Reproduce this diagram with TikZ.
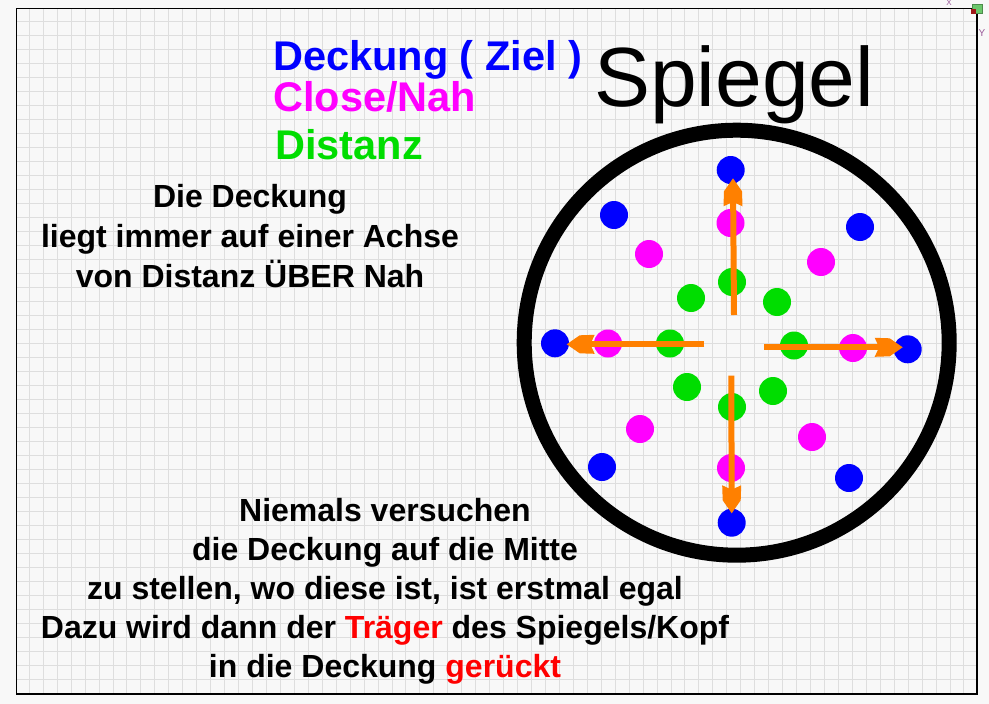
\documentclass[tikz,border=0pt]{standalone}
\usepackage{fontspec}
\setmainfont{Liberation Sans}
\usetikzlibrary{arrows.meta}
\definecolor{bgc}{HTML}{F8F8F8}
\definecolor{gridc}{HTML}{DEDEDE}
\definecolor{gblue}{HTML}{0000FF}
\definecolor{gmag}{HTML}{FF00FF}
\definecolor{ggreen}{HTML}{00DD00}
\definecolor{gorange}{HTML}{FF8000}
\definecolor{gred}{HTML}{FF0000}
\definecolor{axisc}{HTML}{9A5A9A}
\definecolor{cornergreen}{HTML}{6CC86C}
\definecolor{cornerred}{HTML}{A01818}
\begin{document}
\begin{tikzpicture}[x=1pt,y=-1pt,
  dot/.style={circle,inner sep=0pt,minimum size=28pt},
  bdot/.style={dot,fill=gblue},
  mdot/.style={dot,fill=gmag},
  gdot/.style={dot,fill=ggreen},
  shaft/.style={draw=gorange,line width=6pt,shorten >=20pt},
  ahead/.pic={\fill[gorange] (0,0) -- (-13,-9) -- (-28,-9.5) -- (-25,-3) -- (-25,3) -- (-28,9.5) -- (-13,9) -- cycle;},
  title/.style={font=\fontsize{41.5}{45}\selectfont\bfseries,anchor=base west,inner sep=0pt},
  body/.style={font=\fontsize{32}{39}\selectfont\bfseries,anchor=base,inner sep=0pt},
  axislabel/.style={font=\fontsize{8}{9}\selectfont,text=axisc,inner sep=0pt}]

% background and grid
\fill[bgc] (0,0) rectangle (989,704);
\useasboundingbox (0,0) rectangle (989,704);
\begin{scope}
  \clip (16.5,8.5) rectangle (977,694);
  \foreach \i in {0,...,67} \draw[gridc,line width=1pt] ({29.3+13.95*\i},8.5) -- ++(0,686);
  \foreach \j in {0,...,47} \draw[gridc,line width=1pt] (16.5,{21+14.02*\j}) -- ++(961,0);
\end{scope}
\draw[black,line width=1.5pt] (16.5,8.5) rectangle (977,694);

% corner marks
\node[axislabel] (xlab) at (949,3) {X};
\node[axislabel,font=\fontsize{10}{11}\selectfont] (ylab) at (982,33) {Y};
\fill[cornergreen,draw=cornergreen!70!black,line width=0.5pt] (972,4) rectangle (982,13);
\fill[cornerred] (971,8.5) rectangle (976,14);

% mirror circle
\coordinate (ctr) at (736.7,342.7);
\draw[black,line width=15pt] (ctr) circle[radius=212.5];

% blue dots (Deckung)
\node[bdot] (b1) at (730.7,170) {};
\node[bdot] (b2) at (614,215) {};
\node[bdot] (b3) at (860,227) {};
\node[bdot] (b4) at (555,343.3) {};
\node[bdot] (b5) at (907.7,349.3) {};
\node[bdot] (b6) at (602,467) {};
\node[bdot] (b7) at (849,478) {};
\node[bdot] (b8) at (731.7,522.7) {};
% magenta dots (Nah)
\node[mdot] (m1) at (730.5,223) {};
\node[mdot] (m2) at (649,254) {};
\node[mdot] (m3) at (821,262) {};
\node[mdot] (m4) at (608,343.5) {};
\node[mdot] (m5) at (853,348) {};
\node[mdot] (m6) at (640,429) {};
\node[mdot] (m7) at (812,437) {};
\node[mdot] (m8) at (731,468) {};
% green dots (Distanz)
\node[gdot] (g1) at (732,282) {};
\node[gdot] (g2) at (691,298) {};
\node[gdot] (g3) at (777,302) {};
\node[gdot] (g4) at (670,343.5) {};
\node[gdot] (g5) at (794,345.5) {};
\node[gdot] (g6) at (687,387) {};
\node[gdot] (g7) at (773,391) {};
\node[gdot] (g8) at (732,407) {};

% arrows
\coordinate (uS) at (734,315);   \coordinate (uE) at (733,178.3);
\coordinate (lS) at (704.3,344.3); \coordinate (lE) at (566.7,344.3);
\coordinate (rS) at (764,347.3); \coordinate (rE) at (902.7,347.3);
\coordinate (dS) at (731.3,375.7); \coordinate (dE) at (731.7,513.3);
\draw[shaft] (uS) -- (uE);
\draw[shaft] (lS) -- (lE);
\draw[shaft] (rS) -- (rE);
\draw[shaft] (dS) -- (dE);
\pic[rotate=90] at (uE) {ahead};
\pic[rotate=180] at (lE) {ahead};
\pic at (rE) {ahead};
\pic[rotate=-90] at (dE) {ahead};

% legend
\node[title,text=gblue] (t1) at (273,70) {Deckung ( Ziel )};
\node[title,text=gmag] (t2) at (273,111) {Close/Nah};
\node[title,text=ggreen] (t3) at (275,159) {Distanz};
\node[font=\fontsize{84}{92}\selectfont,anchor=base west,inner sep=0pt] (sp) at (594,106) {Spiegel};

% left text
\node[body] (a1) at (250,207) {Die Deckung};
\node[body] (a2) at (250,247) {liegt immer auf einer Achse};
\node[body] (a3) at (250,287) {von Distanz ÜBER Nah};

% bottom text
\node[body] (n1) at (385,521) {Niemals versuchen};
\node[body] (n2) at (385,560) {die Deckung auf die Mitte};
\node[body] (n3) at (385,599) {zu stellen, wo diese ist, ist erstmal egal};
\node[body] (n4) at (385,638) {Dazu wird dann der \textcolor{gred}{Träger} des Spiegels/Kopf};
\node[body] (n5) at (385,677) {in die Deckung \textcolor{gred}{gerückt}};
\end{tikzpicture}
\end{document}
